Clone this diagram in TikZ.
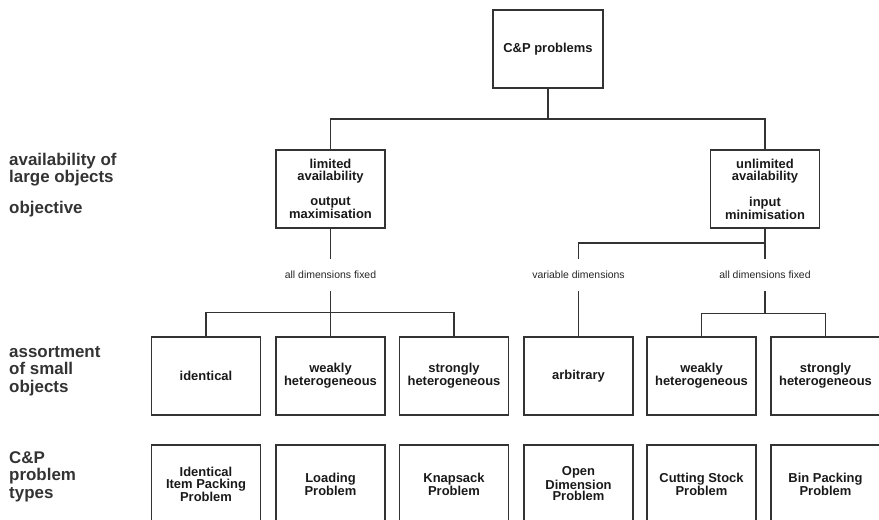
\documentclass[tikz,border=0pt]{standalone}
\usepackage{fontspec}
\setmainfont{Liberation Sans}
\usetikzlibrary{scopes}

\begin{document}
\begin{tikzpicture}[
    x=1bp,y=-1bp,
    box/.style={rectangle,draw=black!80,line width=1.3bp,minimum width=109bp,minimum height=78bp,inner sep=0pt,align=center,font=\fontsize{13}{12}\selectfont\bfseries,text=black!90},
    cond/.style={inner sep=0pt,minimum height=32bp,font=\fontsize{10.5}{12}\selectfont,text=black!85},
    side/.style={anchor=base west,align=left,inner sep=0pt,font=\fontsize{17}{17.5}\selectfont\bfseries,text=black!80},
    link/.style={draw=black!80,line width=1.3bp},
]
    \useasboundingbox (0,0) rectangle (879,520);
    \clip (0,0) rectangle (879,520);

    \node[side] (avail) at (9,183) {availability of\\large objects};
    \node[side] (obj) at (9,214) {objective};
    \node[side] (assort) at (9,392) {assortment\\of small\\objects};
    \node[side] (kinds) at (9,498) {C\&P\\problem\\types};

    \node[box,minimum width=110bp] (top) at (548,49) {C\&P problems};
    \node[box] (lim) at (330.5,189) {limited\\availability\\[13bp]output\\maximisation};
    \node[box] (unl) at (765,189) {unlimited\\availability\\[13bp]input\\minimisation};

    \node[cond] (fixL) at (330.5,275) {all dimensions fixed};
    \node[cond] (var) at (578.5,275) {variable dimensions};
    \node[cond] (fixR) at (765,275) {all dimensions fixed};

    \node[box] (s1) at (206,376) {identical};
    \node[box] (s2) at (330.5,376) {weakly\\heterogeneous};
    \node[box] (s3) at (454,376) {strongly\\heterogeneous};
    \node[box] (s4) at (578.5,376) {arbitrary};
    \node[box] (s5) at (701.5,376) {weakly\\heterogeneous};
    \node[box] (s6) at (825.5,376) {strongly\\heterogeneous};

    \node[box] (t1) at (206,484) {Identical\\Item Packing\\Problem};
    \node[box] (t2) at (330.5,484) {Loading\\Problem};
    \node[box] (t3) at (454,484) {Knapsack\\Problem};
    \node[box] (t4) at (578.5,484) {Open\\Dimension\\Problem};
    \node[box] (t5) at (701.5,484) {Cutting Stock\\Problem};
    \node[box] (t6) at (825.5,484) {Bin Packing\\Problem};

    \coordinate (j1) at (548,119);
    \coordinate (j2) at (765,243);
    {[link]
        \draw (top.south) -- (j1);
        \draw (lim.north) |- (j1) -| (unl.north);
    }
    {[link]
        \draw (lim.south) -- (fixL.north);
        \draw (fixL.south) -- (s2.north);
        \draw (s1.north) -- ++(0,-24) -| (s3.north);
    }
    {[link]
        \draw (unl.south) -- (fixR.north);
        \draw (j2) -| (var.north);
        \draw (var.south) -- (s4.north);
        \draw (fixR.south) -- ++(0,22) coordinate (j3);
        \draw (s5.north) |- (j3) -| (s6.north);
    }
\end{tikzpicture}
\end{document}
